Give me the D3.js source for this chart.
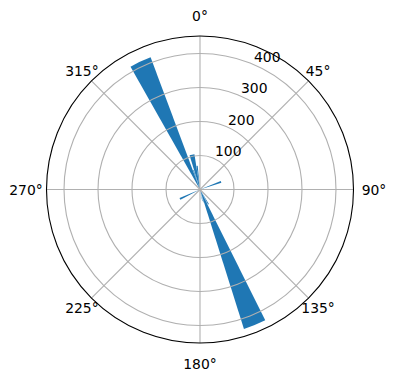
<!DOCTYPE html>
<html>
<head>
<meta charset="utf-8">
<script src="https://cdn.jsdelivr.net/npm/d3@7"></script>
<style>
  body { margin: 0; background: #fff; }
  text { font-family: "DejaVu Sans", sans-serif; font-size: 13.9px; fill: #000; }
</style>
</head>
<body>
<div id="chart"></div>
<script>
// bar directions (degrees, clockwise from north), bar widths (degrees) and counts
var directions = [335, 158, 347, 353, 341, 70, 245, 150, 155, 163, 168];
var widths     = [9,   9,   8,   3,   2,   5,  5,   3,   2,   2,   2];
var counts     = [415, 430, 105, 70,  60,  66, 65,  50,  45,  40,  35];

var angleTicks = [0, 45, 90, 135, 180, 225, 270, 315];
var radialTicks = [100, 200, 300, 400];

var svgWidth = 396;
var svgHeight = 380;
var cx = 200, cy = 189.5;
var outerR = 153.5;

var svg = d3.select("#chart")
  .append("svg")
  .attr("width", svgWidth)
  .attr("height", svgHeight);

var chartGroup = svg.append("g")
  .attr("transform", `translate(${cx}, ${cy})`);

// radial scale, matplotlib style 5% headroom above the tallest bar
var rScale = d3.scaleLinear()
  .domain([0, d3.max(counts) * 1.05])
  .range([0, outerR]);

var toRad = d => d * Math.PI / 180;

var bars = directions.map((d, i) => ({dir: d, w: widths[i], v: counts[i]}));

var arc = d3.arc()
  .innerRadius(0)
  .outerRadius(d => rScale(d.v))
  .startAngle(d => toRad(d.dir - d.w / 2))
  .endAngle(d => toRad(d.dir + d.w / 2));

chartGroup.selectAll("path.bar")
  .data(bars)
  .enter()
  .append("path")
  .attr("class", "bar")
  .attr("d", arc)
  .attr("fill", "#1f77b4");

// grid on top of the bars
chartGroup.selectAll("circle.grid")
  .data(radialTicks)
  .enter()
  .append("circle")
  .attr("class", "grid")
  .attr("r", d => rScale(d))
  .attr("fill", "none")
  .attr("stroke", "#b0b0b0")
  .attr("stroke-width", 1.1);

chartGroup.selectAll("line.grid")
  .data(angleTicks)
  .enter()
  .append("line")
  .attr("class", "grid")
  .attr("x1", 0)
  .attr("y1", 0)
  .attr("x2", d => outerR * Math.sin(toRad(d)))
  .attr("y2", d => -outerR * Math.cos(toRad(d)))
  .attr("stroke", "#b0b0b0")
  .attr("stroke-width", 1.1);

// outer frame
chartGroup.append("circle")
  .attr("r", outerR)
  .attr("fill", "none")
  .attr("stroke", "#000")
  .attr("stroke-width", 1.1);

// angle labels
chartGroup.selectAll("text.theta")
  .data(angleTicks)
  .enter()
  .append("text")
  .attr("class", "theta")
  .attr("text-anchor", "middle")
  .attr("dominant-baseline", "central")
  .attr("x", d => (167 + 7 * Math.abs(Math.cos(toRad(2 * d)))) * Math.sin(toRad(d)))
  .attr("y", d => -(167 + 7 * Math.abs(Math.cos(toRad(2 * d)))) * Math.cos(toRad(d)))
  .text(d => d + "°");

// radial labels at 22.5 degrees
var rlabelAngle = toRad(22.5);
chartGroup.selectAll("text.rlabel")
  .data(radialTicks)
  .enter()
  .append("text")
  .attr("class", "rlabel")
  .attr("x", d => rScale(d) * Math.sin(rlabelAngle) + 2)
  .attr("y", d => -rScale(d) * Math.cos(rlabelAngle) - 2)
  .text(d => d);
</script>
</body>
</html>
